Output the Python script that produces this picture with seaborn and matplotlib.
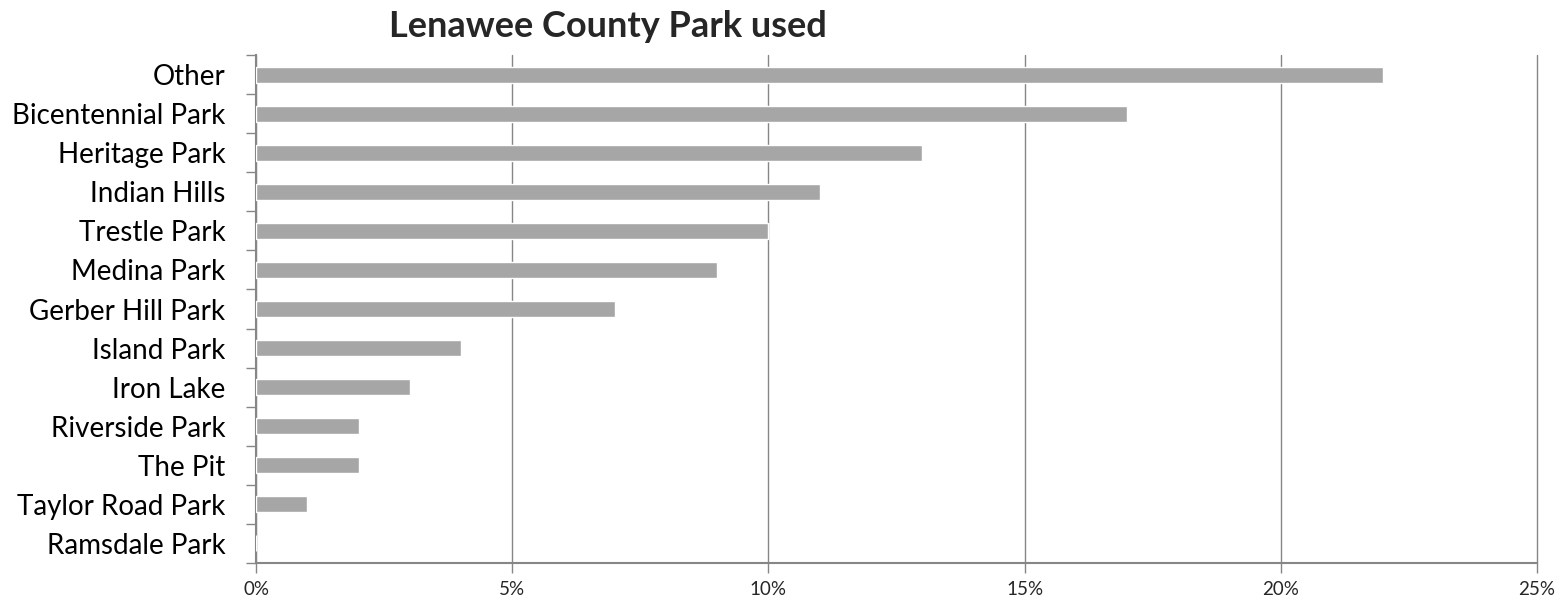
import matplotlib
matplotlib.use("Agg")
import matplotlib.pyplot as plt
import seaborn as sns
import pandas as pd
from matplotlib.ticker import FixedLocator, PercentFormatter

# Data
parks = ["Other", "Bicentennial Park", "Heritage Park", "Indian Hills", "Trestle Park",
         "Medina Park", "Gerber Hill Park", "Island Park", "Iron Lake", "Riverside Park",
         "The Pit", "Taylor Road Park", "Ramsdale Park"]
share = [22, 17, 13, 11, 10, 9, 7, 4, 3, 2, 2, 1, 0]

df = pd.DataFrame({"Park": parks, "Share": share})

sns.set_style("white")
plt.rcParams["font.family"] = ["Lato", "DejaVu Sans"]

fig = plt.figure(figsize=(15.68, 6.01), dpi=100)
ax = fig.add_axes([0.1633, 0.0632, 0.8169, 0.8453])

sns.barplot(data=df, x="Share", y="Park", orient="h", color="#a6a6a6",
            width=0.41, saturation=1, ax=ax, zorder=3)

ax.set_xlim(0, 25)
ax.set_ylim(len(parks) - 0.5, -0.5)
ax.set_xticks([0, 5, 10, 15, 20, 25])
ax.xaxis.set_major_formatter(PercentFormatter(decimals=0))
ax.grid(axis="x", color="#868686", linewidth=1, zorder=0)
for gl in ax.get_xgridlines():
    gl.set_clip_on(False)
ax.set_xlabel("")
ax.set_ylabel("")

# tick marks between categories on the y axis
ax.yaxis.set_minor_locator(FixedLocator([i - 0.5 for i in range(len(parks) + 1)]))
ax.tick_params(axis="y", which="major", length=0, pad=22, labelsize=20, labelcolor="black")
ax.tick_params(axis="y", which="minor", length=7, width=1, color="#868686", left=True)
ax.tick_params(axis="x", which="major", length=7, width=1, color="#868686", bottom=True,
               direction="out", labelsize=13.5, pad=6)

for side in ["top", "right"]:
    ax.spines[side].set_visible(False)
for side in ["left", "bottom"]:
    ax.spines[side].set_color("#868686")
    ax.spines[side].set_linewidth(1.5)

fig.text(0.388, 0.928, "Lenawee County Park used", ha="center", va="bottom",
         fontsize=26, fontweight="bold")

fig.savefig("out.png", dpi=100)
